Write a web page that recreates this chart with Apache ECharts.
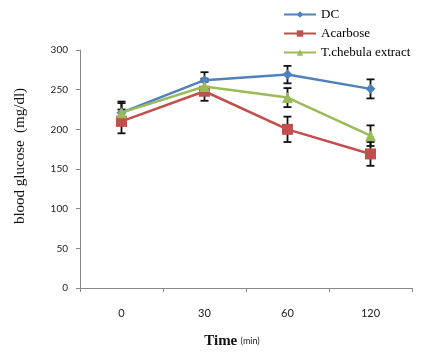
<!DOCTYPE html>
<html>
<head>
<meta charset="utf-8">
<script src="https://cdn.jsdelivr.net/npm/echarts@6/dist/echarts.min.js"></script>
<style>
html, body { margin: 0; padding: 0; background: #fff; }
#main { width: 423px; height: 354px; }
</style>
</head>
<body>
<div id="main"></div>
<script>
// data
var times = ['0', '30', '60', '120'];
var dcVals = [221, 262, 269, 251];
var dcErr = [12, 10, 11, 12];
var acarVals = [210, 248, 200, 169];
var acarErr = [15, 12, 16, 15];
var tcVals = [221, 254, 240, 192];
var tcErr = [14, 10, 12, 13];
var yTicks = [0, 50, 100, 150, 200, 250, 300];

var myChart = echarts.init(document.getElementById('main'));

function errSeries(vals, errs) {
    var data = vals.map(function (v, i) { return [i, v - errs[i], v + errs[i]]; });
    return {
        type: 'custom',
        z: 1,
        silent: true,
        data: data,
        renderItem: function (params, api) {
            var lo = api.coord([api.value(0), api.value(1)]);
            var hi = api.coord([api.value(0), api.value(2)]);
            var w = 4;
            var st = { stroke: '#111', lineWidth: 1.8 };
            return {
                type: 'group',
                children: [
                    { type: 'line', shape: { x1: lo[0], y1: lo[1], x2: hi[0], y2: hi[1] }, style: st },
                    { type: 'line', shape: { x1: lo[0] - w, y1: lo[1], x2: lo[0] + w, y2: lo[1] }, style: st },
                    { type: 'line', shape: { x1: hi[0] - w, y1: hi[1], x2: hi[0] + w, y2: hi[1] }, style: st }
                ]
            };
        }
    };
}

option = {
    animation: false,
    backgroundColor: '#fff',
    grid: { left: 80, right: 11, top: 50, bottom: 64 },
    legend: {
        orient: 'vertical',
        left: 278,
        top: 3,
        itemWidth: 32,
        itemHeight: 8,
        itemGap: 6,
        textStyle: { fontFamily: 'Liberation Serif', fontSize: 13, color: '#000' },
        data: ['DC', 'Acarbose', 'T.chebula extract']
    },
    xAxis: {
        type: 'category',
        data: times,
        boundaryGap: true,
        axisLine: { lineStyle: { color: '#888', width: 1 } },
        axisTick: { show: true, length: 4, lineStyle: { color: '#888' } },
        axisLabel: { fontFamily: 'Lato', fontSize: 11, color: '#222', margin: 20 },
        name: '{t|Time} {m|(min)}',
        nameLocation: 'middle',
        nameGap: 46,
        nameTextStyle: {
            padding: [0, 28, 0, 0],
            rich: {
                t: { fontFamily: 'Liberation Serif', fontSize: 15, fontWeight: 'bold', color: '#111' },
                m: { fontFamily: 'Lato', fontSize: 9, color: '#222' }
            }
        }
    },
    yAxis: {
        type: 'value',
        min: yTicks[0],
        max: yTicks[yTicks.length - 1],
        interval: 50,
        splitLine: { show: false },
        axisLine: { show: true, lineStyle: { color: '#888', width: 1 } },
        axisTick: { show: true, length: 4, lineStyle: { color: '#888' } },
        axisLabel: { fontFamily: 'Lato', fontSize: 10, color: '#222', margin: 12 },
        name: 'blood glucose  (mg/dl)',
        nameLocation: 'middle',
        nameGap: 52,
        nameTextStyle: {
            fontFamily: 'Liberation Serif', fontSize: 15, color: '#111',
            padding: [0, 0, 0, 26]
        }
    },
    series: [
        {
            name: 'DC', type: 'line', data: dcVals, z: 3,
            symbol: 'diamond', symbolSize: 10,
            itemStyle: { color: '#4F81BD' },
            lineStyle: { color: '#4F81BD', width: 2.5 }
        },
        {
            name: 'Acarbose', type: 'line', data: acarVals, z: 3,
            symbol: 'rect', symbolSize: 11,
            itemStyle: { color: '#C0504D' },
            lineStyle: { color: '#C0504D', width: 2.5 }
        },
        {
            name: 'T.chebula extract', type: 'line', data: tcVals, z: 4,
            symbol: 'triangle', symbolSize: 11,
            itemStyle: { color: '#9BBB59' },
            lineStyle: { color: '#9BBB59', width: 2.5 }
        },
        errSeries(dcVals, dcErr),
        errSeries(acarVals, acarErr),
        errSeries(tcVals, tcErr)
    ]
};

myChart.setOption(option);
</script>
</body>
</html>
